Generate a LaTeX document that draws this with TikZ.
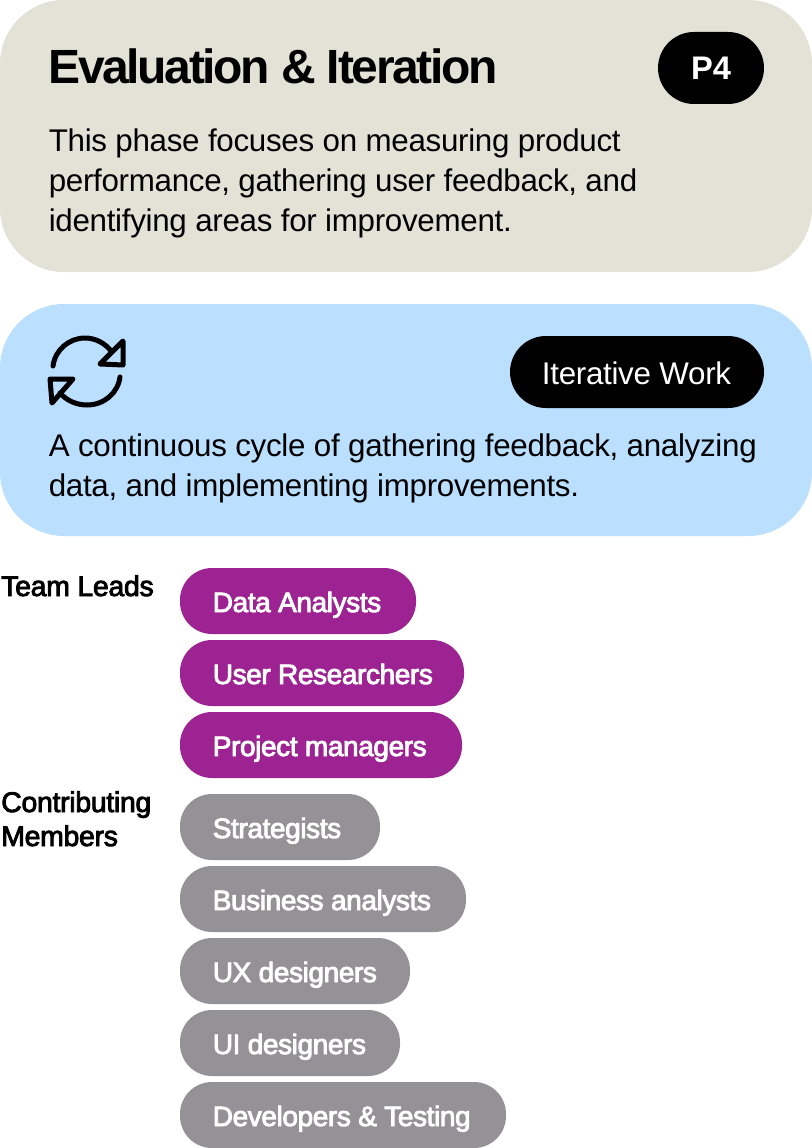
\documentclass[tikz,border=0pt]{standalone}
\usepackage{fontspec}
\setmainfont{Liberation Sans}
\newfontfamily\semi[FakeBold=3,LetterSpace=-1.4]{Liberation Sans}
\newfontfamily\lead[FakeBold=3,LetterSpace=-1.0]{Liberation Sans}
\newfontfamily\heavy[LetterSpace=-4.8]{Liberation Sans Bold}
\newfontfamily\tight[LetterSpace=-0.95]{Liberation Sans}
\definecolor{cream}{HTML}{E3E2D7}
\definecolor{skyb}{HTML}{BADFFF}
\definecolor{purp}{HTML}{9C2391}
\definecolor{greyp}{HTML}{949296}
\tikzset{x=0.75pt,y=-0.75pt,
 chip/.style={anchor=base west,text=white,inner sep=0pt,font=\semi\fontsize{21}{21}\selectfont},
 body/.style={anchor=base west,inner sep=0pt,font=\tight\fontsize{23.5}{23.5}\selectfont,text=black},
 leadtext/.style={anchor=base west,inner sep=0pt,font=\lead\fontsize{21.3}{21.3}\selectfont,text=black},
 icon/.style={black,line width=3.75pt,line cap=round,line join=round}}
\begin{document}
\begin{tikzpicture}
\useasboundingbox (0,0) rectangle (812,1148);
\fill[cream,rounded corners=48pt] (0,0) rectangle (812,272);
\fill[skyb,rounded corners=48pt] (0,304) rectangle (812,536);
\node[anchor=base west,inner sep=0pt,font=\heavy\fontsize{36}{36}\selectfont] (title) at (48,84) {Evaluation \& Iteration};
\fill[black,rounded corners=27pt] (658,32) rectangle (764,104);
\node[inner sep=0pt,text=white,font=\bfseries\fontsize{24.5}{24.5}\selectfont] (p4) at (711,68) {P4};
\node[body] (d1) at (48.5,152) {This phase focuses on measuring product};
\node[body] (d2) at (48.5,192) {performance, gathering user feedback, and};
\node[body] (d3) at (48.5,232) {identifying areas for improvement.};
\fill[black,rounded corners=27pt] (510,336) rectangle (764,408);
\node[inner sep=0pt,text=white,font=\tight\fontsize{23.5}{23.5}\selectfont] (iw) at (636.5,373) {Iterative Work};
\node[body] (e1) at (48.5,456) {A continuous cycle of gathering feedback, analyzing};
\node[body] (e2) at (48.5,496) {data, and implementing improvements.};
% icon
\draw[icon] (53,366) .. controls (55,350) and (69,338) .. (85,338) .. controls (95,338) and (105,343) .. (111,351);
\draw[icon] (120,377) .. controls (118,393) and (104,405) .. (87,405) .. controls (77,405) and (67,401) .. (60,393);
\draw[icon] (123,341) -- (123,365) -- (100,364) -- cycle;
\draw[icon] (50,379) -- (73,379) -- (52,403) -- cycle;
% chips
\foreach \nm/\a/\b/\t/\c in {a/568/416/Data Analysts/purp,b/640/464/User Researchers/purp,c/712/462/Project managers/purp,d/794/380/Strategists/greyp,e/866/466/Business analysts/greyp,f/938/410/UX designers/greyp,g/1010/400/UI designers/greyp,h/1082/506/Developers \& Testing/greyp}{
 \fill[\c,rounded corners=24pt] (180,\a) rectangle (\b,\a+66);
 \node[chip] (\nm) at (212.5,\a+44) {\t};
}
\node[leadtext] (tl) at (1,596) {Team Leads};
\node[leadtext] (cm1) at (1,812) {Contributing};
\node[leadtext] (cm2) at (1,846) {Members};
\end{tikzpicture}
\end{document}
